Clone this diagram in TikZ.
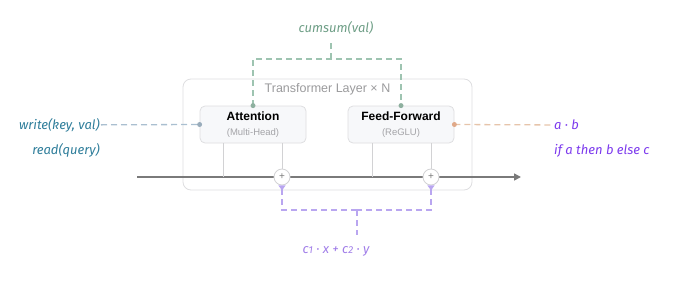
\documentclass[tikz,border=0pt]{standalone}
\usepackage{fontspec}
\setmainfont{Liberation Sans}
\newfontfamily\handfont{Fira Sans}
\usetikzlibrary{arrows.meta,positioning}
\definecolor{tfgray}{HTML}{7A7A7A}
\definecolor{tfline}{HTML}{D2D2D4}
\definecolor{tfborder}{HTML}{DEDEE0}
\definecolor{tffill}{HTML}{F7F8FA}
\definecolor{tftitle}{HTML}{9A9A9C}
\definecolor{tfsub}{HTML}{A4A4A8}
\definecolor{tfgreen}{HTML}{6E9E86}
\definecolor{tfgreenl}{HTML}{9EC4B1}
\definecolor{tfblue}{HTML}{2E7D9A}
\definecolor{tfbluel}{HTML}{AABFD0}
\definecolor{tforange}{HTML}{E0A989}
\definecolor{tforangel}{HTML}{E6C4AA}
\definecolor{tfpurple}{HTML}{7C3AED}
\definecolor{tfpurplem}{HTML}{A07DE8}
\definecolor{tfpurplel}{HTML}{B9A6F0}

\begin{document}
\begin{tikzpicture}[x=1pt, y=-1pt,
  every node/.style={font=\fontsize{12}{15}\selectfont},
  layerbox/.style={draw=tfborder, line width=0.8pt, rounded corners=8pt, minimum width=289pt, minimum height=111pt},
  opbox/.style={draw=tfborder, line width=0.8pt, fill=tffill, rounded corners=5pt, minimum width=106pt, minimum height=37pt, align=center, inner sep=0pt},
  addnode/.style={circle, draw=tfline, line width=0.8pt, fill=white, minimum size=16pt, inner sep=0pt, text=tfgray, font=\fontsize{10}{10}\selectfont},
  hand/.style={font=\handfont\itshape\fontseries{m}\fontsize{13}{15}\selectfont, inner sep=1pt},
  dashes/.style={dash pattern=on 6pt off 4pt, line width=1.3pt},
  thinline/.style={draw=tfline, line width=0.8pt}]
  \useasboundingbox (0,0) rectangle (680,292);

  % Layer
  \node[layerbox] (layer) at (327.5,134.5) {};
  \node[text=tftitle, font=\fontsize{12.5}{14}\selectfont] (title) at (327.5,89) {Transformer Layer × N};

  % Attention
  \node[opbox] (attn) at (253,124.5) {
    \textbf{Attention}\\
    {\fontsize{9.5}{12}\selectfont\color{tfsub}(Multi-Head)}
  };

  % Feed-Forward
  \node[opbox] (ffn) at (401,124.5) {
    \textbf{Feed-Forward}\\
    {\fontsize{9.5}{12}\selectfont\color{tfsub}(ReGLU)}
  };

  % Residual stream
  \coordinate (in) at (137,177);
  \coordinate (out) at (521,177);
  \draw[tfgray, line width=1.6pt, -{Triangle[length=7pt, width=7pt]}] (in) -- (out);
  \draw[thinline] (223,143) -- (223,177);
  \draw[thinline] (372,143) -- (372,177);
  \node[addnode] (add1) at (282,177) {+};
  \node[addnode] (add2) at (431,177) {+};
  \draw[thinline] (add1 |- attn.south) -- (add1);
  \draw[thinline] (add2 |- ffn.south) -- (add2);

  % cumsum
  \node[hand, text=tfgreen] (cumsum) at (336,28) {cumsum(val)};
  \coordinate (gmid) at (331,59);
  \draw[dashes, tfgreenl] (attn.north) |- (gmid) -| (ffn.north);
  \draw[dashes, tfgreenl] (gmid) -- (331,40);
  \fill[tfgreenl!90!black] (attn.north) circle (2.5);
  \fill[tfgreenl!90!black] (ffn.north) circle (2.5);

  % key / value memory
  \node[hand, text=tfblue, anchor=east] (write) at (101,125) {write(key, val)};
  \node[hand, text=tfblue, anchor=east] (read) at (101,150) {read(query)};
  \draw[dashes, tfbluel] (write) -- (attn.west);
  \fill[tfbluel!90!black] (attn.west) circle (2.5);

  % gating
  \node[hand, text=tfpurple, anchor=west] (prod) at (553,125) {a · b};
  \node[hand, text=tfpurple, anchor=west] (cond) at (553,151) {if a then b else c};
  \draw[dashes, tforangel] (ffn.east) -- (prod);
  \fill[tforange] (ffn.east) circle (2.5);

  % linear mix
  \node[hand, text=tfpurplem] (mix) at (336,251) {c{\fontsize{10}{10}\selectfont 1} · x + c{\fontsize{10}{10}\selectfont 2} · y};
  \coordinate (pmid) at (357,210);
  \draw[dashes, tfpurplel, {Triangle[reversed, length=5pt, width=7pt]}-] (add1.south) |- (pmid);
  \draw[dashes, tfpurplel, {Triangle[reversed, length=5pt, width=7pt]}-] (add2.south) |- (pmid);
  \draw[dashes, tfpurplel] (pmid) -- (357,235);
\end{tikzpicture}
\end{document}
